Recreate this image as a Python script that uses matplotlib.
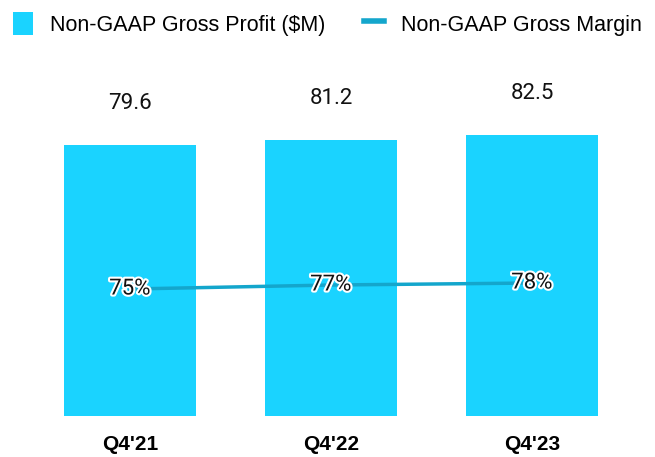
import matplotlib.pyplot as plt
import matplotlib.patheffects as pe
from matplotlib.patches import Patch
from matplotlib.lines import Line2D

plt.rcParams['font.family'] = ['Roboto', 'DejaVu Sans']

quarters = ["Q4'21", "Q4'22", "Q4'23"]
gross_profit = [79.6, 81.2, 82.5]
gross_margin = [75, 77, 78]

bar_color = '#1AD3FF'
line_color = '#14A6CC'

fig = plt.figure(figsize=(6.55, 4.57), dpi=100)
ax = fig.add_axes([0.045, 0.0897, 0.9206, 0.745])
x = range(len(quarters))
ax.bar(x, gross_profit, width=0.655, color=bar_color, zorder=1)
ax.set_xlim(-0.5, 2.5)
ax.set_ylim(0, 100)
for i, v in enumerate(gross_profit):
    ax.text(i, v + 9.0, f'{v:.1f}', ha='center', va='bottom', fontsize=16, color='#111111')

ax.set_xticks(list(x))
ax.set_xticklabels(quarters, fontsize=15, fontweight='bold', family=['Liberation Sans'])
ax.tick_params(axis='x', length=0, pad=14)
ax.set_yticks([])
for s in ax.spines.values():
    s.set_visible(False)

ax2 = ax.twinx()
ax2.plot(list(x), gross_margin, color=line_color, linewidth=2.5, zorder=2)
ax2.set_ylim(11.5, 181.75)
ax2.set_yticks([])
for s in ax2.spines.values():
    s.set_visible(False)
for i, v in enumerate(gross_margin):
    ax2.text(i, v, f'{v}%', ha='center', va='center', fontsize=16, color='#111111',
             path_effects=[pe.withStroke(linewidth=3, foreground='white')], zorder=3)

handles = [Patch(facecolor=bar_color, edgecolor='none'),
           Line2D([0], [0], color=line_color, linewidth=4)]
fig.legend(handles, ['Non-GAAP Gross Profit ($M)', 'Non-GAAP Gross Margin'],
           loc='center', bbox_to_anchor=(0.5, 0.948), ncol=2, frameon=False,
           prop={'family': 'Liberation Sans', 'size': 15.5},
           handlelength=0.9, handleheight=1.3, columnspacing=1.8, handletextpad=0.8)

fig.savefig('out.png', dpi=100)
